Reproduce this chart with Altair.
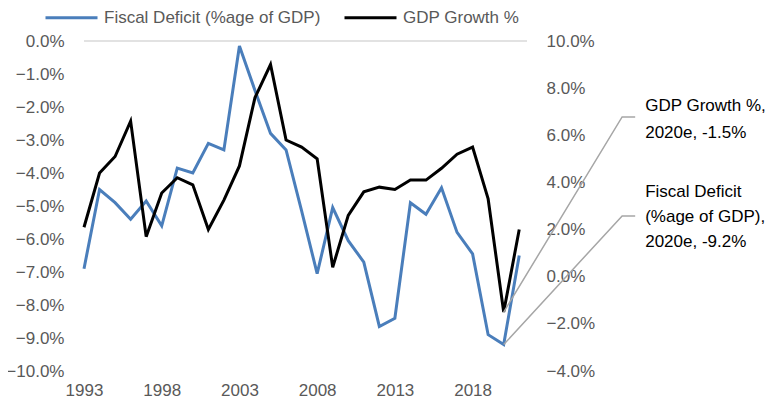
import altair as alt
import pandas as pd

years = list(range(1993, 2022))
fiscal_deficit = [-6.9, -4.5, -4.9, -5.4, -4.85, -5.6, -3.85, -4.0, -3.1, -3.3,
                  -0.15, -1.5, -2.8, -3.3, -5.15, -7.05, -5.05, -6.05, -6.7, -8.65,
                  -8.4, -4.9, -5.25, -4.45, -5.8, -6.45, -8.9, -9.2, -6.5]
gdp_growth = [2.1, 4.4, 5.1, 6.6, 1.7, 3.55, 4.2, 3.9, 2.0, 3.25,
              4.7, 7.6, 9.0, 5.8, 5.5, 5.0, 0.4, 2.6, 3.6, 3.8,
              3.7, 4.1, 4.1, 4.6, 5.2, 5.5, 3.3, -1.5, 2.0]

series_names = ["Fiscal Deficit (%age of GDP)", "GDP Growth %"]
series_colors = ["#4A7EBB", "#000000"]

x_ticks = [1993, 1998, 2003, 2008, 2013, 2018]
left_ticks = [0, -1, -2, -3, -4, -5, -6, -7, -8, -9, -10]
right_ticks = [10, 8, 6, 4, 2, 0, -2, -4]
gridline_at = [0]

# annotation leaders (data units of each axis)
fiscal_leader_x = [2020, 2027.62, 2028.46]
fiscal_leader_y = [-9.2, -5.3, -5.3]
gdp_leader_x = [2020, 2027.62, 2028.46]
gdp_leader_y = [-1.5, 6.78, 6.78]
fiscal_note = ["Fiscal Deficit", "(%age of GDP),", "2020e, -9.2%"]
gdp_note = ["GDP Growth %,", "2020e, -1.5%"]

FONT = "Liberation Sans"

df_f = pd.DataFrame({"year": years, "value": fiscal_deficit, "series": series_names[0]})
df_g = pd.DataFrame({"year": years, "value": gdp_growth, "series": series_names[1]})
df_grid = pd.DataFrame({"v": gridline_at})
df_fl = pd.DataFrame({"x": fiscal_leader_x, "y": fiscal_leader_y, "i": range(3)})
df_gl = pd.DataFrame({"x": gdp_leader_x, "y": gdp_leader_y, "i": range(3)})
df_ft = pd.DataFrame({"x": [fiscal_leader_x[-1]], "y": [fiscal_leader_y[-1]], "t": [fiscal_note]})
df_gt = pd.DataFrame({"x": [gdp_leader_x[-1]], "y": [gdp_leader_y[-1]], "t": [gdp_note]})

xscale = alt.Scale(domain=[1993, 2021.5], nice=False, zero=False)
yl_scale = alt.Scale(domain=[-10, 0], nice=False, zero=False)
yr_scale = alt.Scale(domain=[-4, 10], nice=False, zero=False)
cscale = alt.Scale(domain=series_names, range=series_colors)

x_axis = alt.Axis(values=x_ticks, format="d", labelPadding=11,
                  labelFlush=False, labelOverlap=False)
yl_axis = alt.Axis(orient="left", values=left_ticks, labelPadding=20,
                   labelOverlap=False, labelFlush=False, tickCount=11,
                   labelExpr="format(datum.value, '.1f') + '%'")
yr_axis = alt.Axis(orient="right", values=right_ticks, labelPadding=19,
                   labelOverlap=False, labelFlush=False, tickCount=8,
                   labelExpr="format(datum.value, '.1f') + '%'")

legend = alt.Legend(orient="none", legendX=-40, legendY=-51, direction="horizontal",
                    symbolType="stroke", symbolSize=2704, symbolStrokeWidth=3,
                    labelFontSize=17, labelColor="#595959", labelFont=FONT,
                    labelOffset=5, columnPadding=17, title=None, padding=0,
                    labelLimit=400)

line_f = alt.Chart(df_f).mark_line(strokeWidth=3).encode(
    x=alt.X("year:Q", scale=xscale, title=None, axis=x_axis),
    y=alt.Y("value:Q", scale=yl_scale, title=None, axis=yl_axis),
    color=alt.Color("series:N", scale=cscale, legend=legend),
)

grid = alt.Chart(df_grid).mark_rule(color="#D9D9D9", strokeWidth=1.5).encode(
    y=alt.Y("v:Q", scale=yl_scale, title=None, axis=yl_axis)
)

lead_f = alt.Chart(df_fl).mark_line(color="#A6A6A6", strokeWidth=1.5).encode(
    x=alt.X("x:Q", scale=xscale, title=None, axis=x_axis),
    y=alt.Y("y:Q", scale=yl_scale, title=None, axis=yl_axis),
    order="i:Q",
)
text_f = alt.Chart(df_ft).mark_text(align="left", baseline="middle", dx=10, dy=-24,
                                    fontSize=17, font=FONT, lineHeight=25,
                                    color="#000000").encode(
    x=alt.X("x:Q", scale=xscale, title=None, axis=x_axis),
    y=alt.Y("y:Q", scale=yl_scale, title=None, axis=yl_axis),
    text="t",
)

line_g = alt.Chart(df_g).mark_line(strokeWidth=3).encode(
    x=alt.X("year:Q", scale=xscale, title=None, axis=x_axis),
    y=alt.Y("value:Q", scale=yr_scale, title=None, axis=yr_axis),
    color=alt.Color("series:N", scale=cscale, legend=legend),
)
lead_g = alt.Chart(df_gl).mark_line(color="#A6A6A6", strokeWidth=1.5).encode(
    x=alt.X("x:Q", scale=xscale, title=None, axis=x_axis),
    y=alt.Y("y:Q", scale=yr_scale, title=None, axis=yr_axis),
    order="i:Q",
)
text_g = alt.Chart(df_gt).mark_text(align="left", baseline="middle", dx=10, dy=-11,
                                    fontSize=17, font=FONT, lineHeight=27,
                                    color="#000000").encode(
    x=alt.X("x:Q", scale=xscale, title=None, axis=x_axis),
    y=alt.Y("y:Q", scale=yr_scale, title=None, axis=yr_axis),
    text="t",
)

left = alt.layer(grid, line_f, lead_f, text_f)
right = alt.layer(line_g, lead_g, text_g)

chart = alt.layer(left, right).resolve_scale(y="independent").properties(
    width=443, height=330,
    autosize=alt.AutoSizeParams(type="none"),
    padding={"left": 76, "top": 33, "right": 243, "bottom": 29},
).configure_view(stroke=None).configure_axis(
    domain=False, ticks=False, grid=False, labelFont=FONT, labelFontSize=17,
    labelColor="#595959"
)

chart.save("out.html", embed_options={"renderer": "svg", "actions": False})
